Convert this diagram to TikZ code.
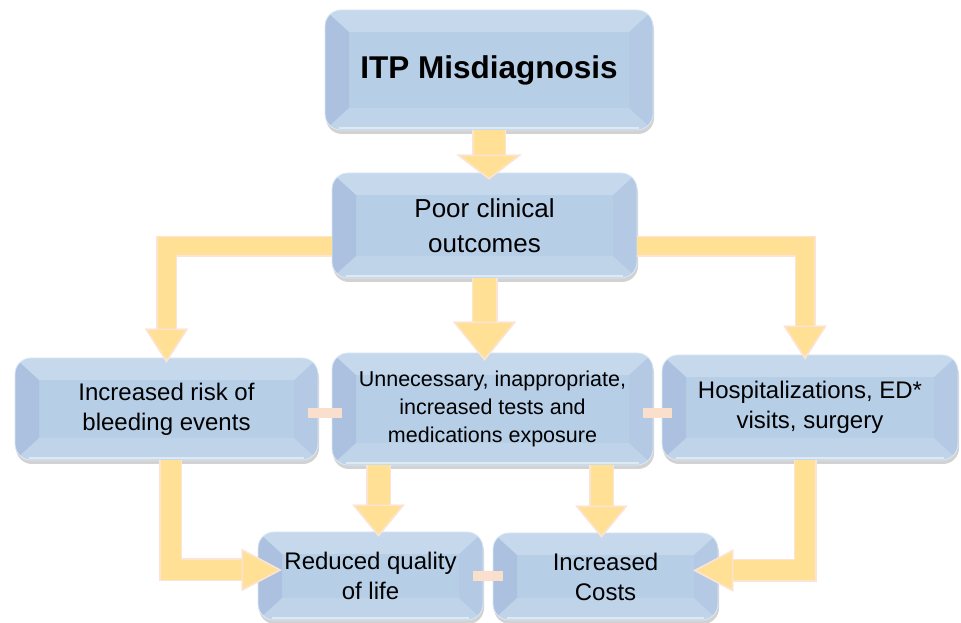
\documentclass[tikz,border=0pt]{standalone}
\usepackage{fontspec}
\setmainfont{Liberation Sans}
\usetikzlibrary{arrows.meta,calc,shadows}
\definecolor{boxblue}{RGB}{183,206,231}
\definecolor{boxrim}{RGB}{218,232,246}
\definecolor{arrowfill}{RGB}{255,224,148}
\definecolor{arrowedge}{RGB}{251,228,212}
\definecolor{linkpeach}{RGB}{250,224,204}

\begin{document}
\begin{tikzpicture}[x=1pt,y=1pt,
    stage/.style={draw=boxrim, line width=0.8pt, fill=boxblue, rounded corners=16pt,
        align=center, inner sep=0pt, text=black,
        drop shadow={shadow xshift=1pt, shadow yshift=-4pt, opacity=0.25, fill=black!70},
        path picture={
            \coordinate (nw) at (path picture bounding box.north west);
            \coordinate (ne) at (path picture bounding box.north east);
            \coordinate (sw) at (path picture bounding box.south west);
            \coordinate (se) at (path picture bounding box.south east);
            \fill[sharp corners, white, opacity=0.22] (nw)--(ne)--($(ne)+(-24,-22)$)--($(nw)+(24,-22)$)--cycle;
            \fill[sharp corners, blue!40!black, opacity=0.06] (nw)--($(nw)+(24,-22)$)--($(sw)+(24,22)$)--(sw)--cycle;
            \fill[sharp corners, white, opacity=0.12] (sw)--($(sw)+(24,22)$)--($(se)+(-24,22)$)--(se)--cycle;
            \fill[sharp corners, blue!40!black, opacity=0.02] (ne)--($(ne)+(-24,-22)$)--($(se)+(-24,22)$)--(se)--cycle;
            \draw[white, opacity=0.5, line width=2pt] ($(sw)+(14,1.5)$) -- ($(se)+(-14,1.5)$);
        }},
    fat/.style n args={3}{draw=arrowfill, line width=#1, shorten >=-5pt,
        -{Triangle[width=#2, length=#3, fill=arrowfill, color=arrowedge, line width=1.5pt]},
        preaction={draw=arrowedge, line width=#1+3pt, shorten >=-5pt,
            -{Triangle[width=#2, length=#3, fill=arrowfill, color=arrowedge, line width=1.5pt]}}},
    link/.style={draw=linkpeach, line width=10pt, shorten <=-10pt, shorten >=-10pt}]
    \useasboundingbox (0,0) rectangle (961,623);

    \node[stage, minimum width=328, minimum height=120, font=\fontsize{31.5}{38}\selectfont\bfseries]
        (misdiag) at (489,553) {ITP Misdiagnosis};
    \node[stage, minimum width=305, minimum height=105, font=\fontsize{26}{35}\selectfont]
        (poor) at (484.5,397.5) {Poor clinical\\outcomes};
    \node[stage, minimum width=303, minimum height=102, font=\fontsize{24}{30}\selectfont]
        (risk) at (166.5,214) {Increased risk of\\bleeding events};
    \node[stage, minimum width=321, minimum height=112, font=\fontsize{21.5}{28}\selectfont]
        (tests) at (492.5,214) {Unnecessary, inappropriate,\\increased tests and\\medications exposure};
    \node[stage, minimum width=296, minimum height=105, font=\fontsize{24}{30}\selectfont]
        (hosp) at (810,215.5) {Hospitalizations, ED*\\visits, surgery};
    \node[stage, minimum width=225, minimum height=88, font=\fontsize{24}{30}\selectfont]
        (qol) at (370.5,47) {Reduced quality\\of life};
    \node[stage, minimum width=225, minimum height=87, font=\fontsize{24}{30}\selectfont]
        (costs) at (605.5,46.5) {Increased\\Costs};

    \draw[link] ([yshift=-4pt]risk.east) -- ([yshift=-4pt]risk.east -| tests.west);
    \draw[link] ([yshift=-4pt]tests.east) -- ([yshift=-4pt]tests.east -| hosp.west);
    \draw[link] (qol.east) -- (qol.east -| costs.west);

    \draw[fat={31pt}{65pt}{25pt}] (misdiag.south) -- ([yshift=-2pt]misdiag.south |- poor.north);
    \draw[fat={23pt}{63pt}{39pt}] (poor.south) -- ([yshift=-3pt]poor.south |- tests.north);
    \draw[fat={18pt}{43pt}{34pt}] ([yshift=-21pt]poor.west) -| (risk.north);
    \draw[fat={18pt}{43pt}{34pt}] ([yshift=-21pt]poor.east) -| ([xshift=-5pt]hosp.north);
    \draw[fat={20pt}{42pt}{40pt}] ([xshift=4pt]risk.south) |- ([xshift=19pt,yshift=6pt]qol.west);
    \draw[fat={20pt}{42pt}{40pt}] ([xshift=-5pt]hosp.south) |- ([xshift=-20pt,yshift=6pt]costs.east);
    \draw[fat={22pt}{52pt}{32pt}] ([xshift=8pt]qol.north |- tests.south) -- ([xshift=8pt]qol.north);
    \draw[fat={22pt}{52pt}{32pt}] ([xshift=-4pt]costs.north |- tests.south) -- ([xshift=-4pt]costs.north);
\end{tikzpicture}
\end{document}
